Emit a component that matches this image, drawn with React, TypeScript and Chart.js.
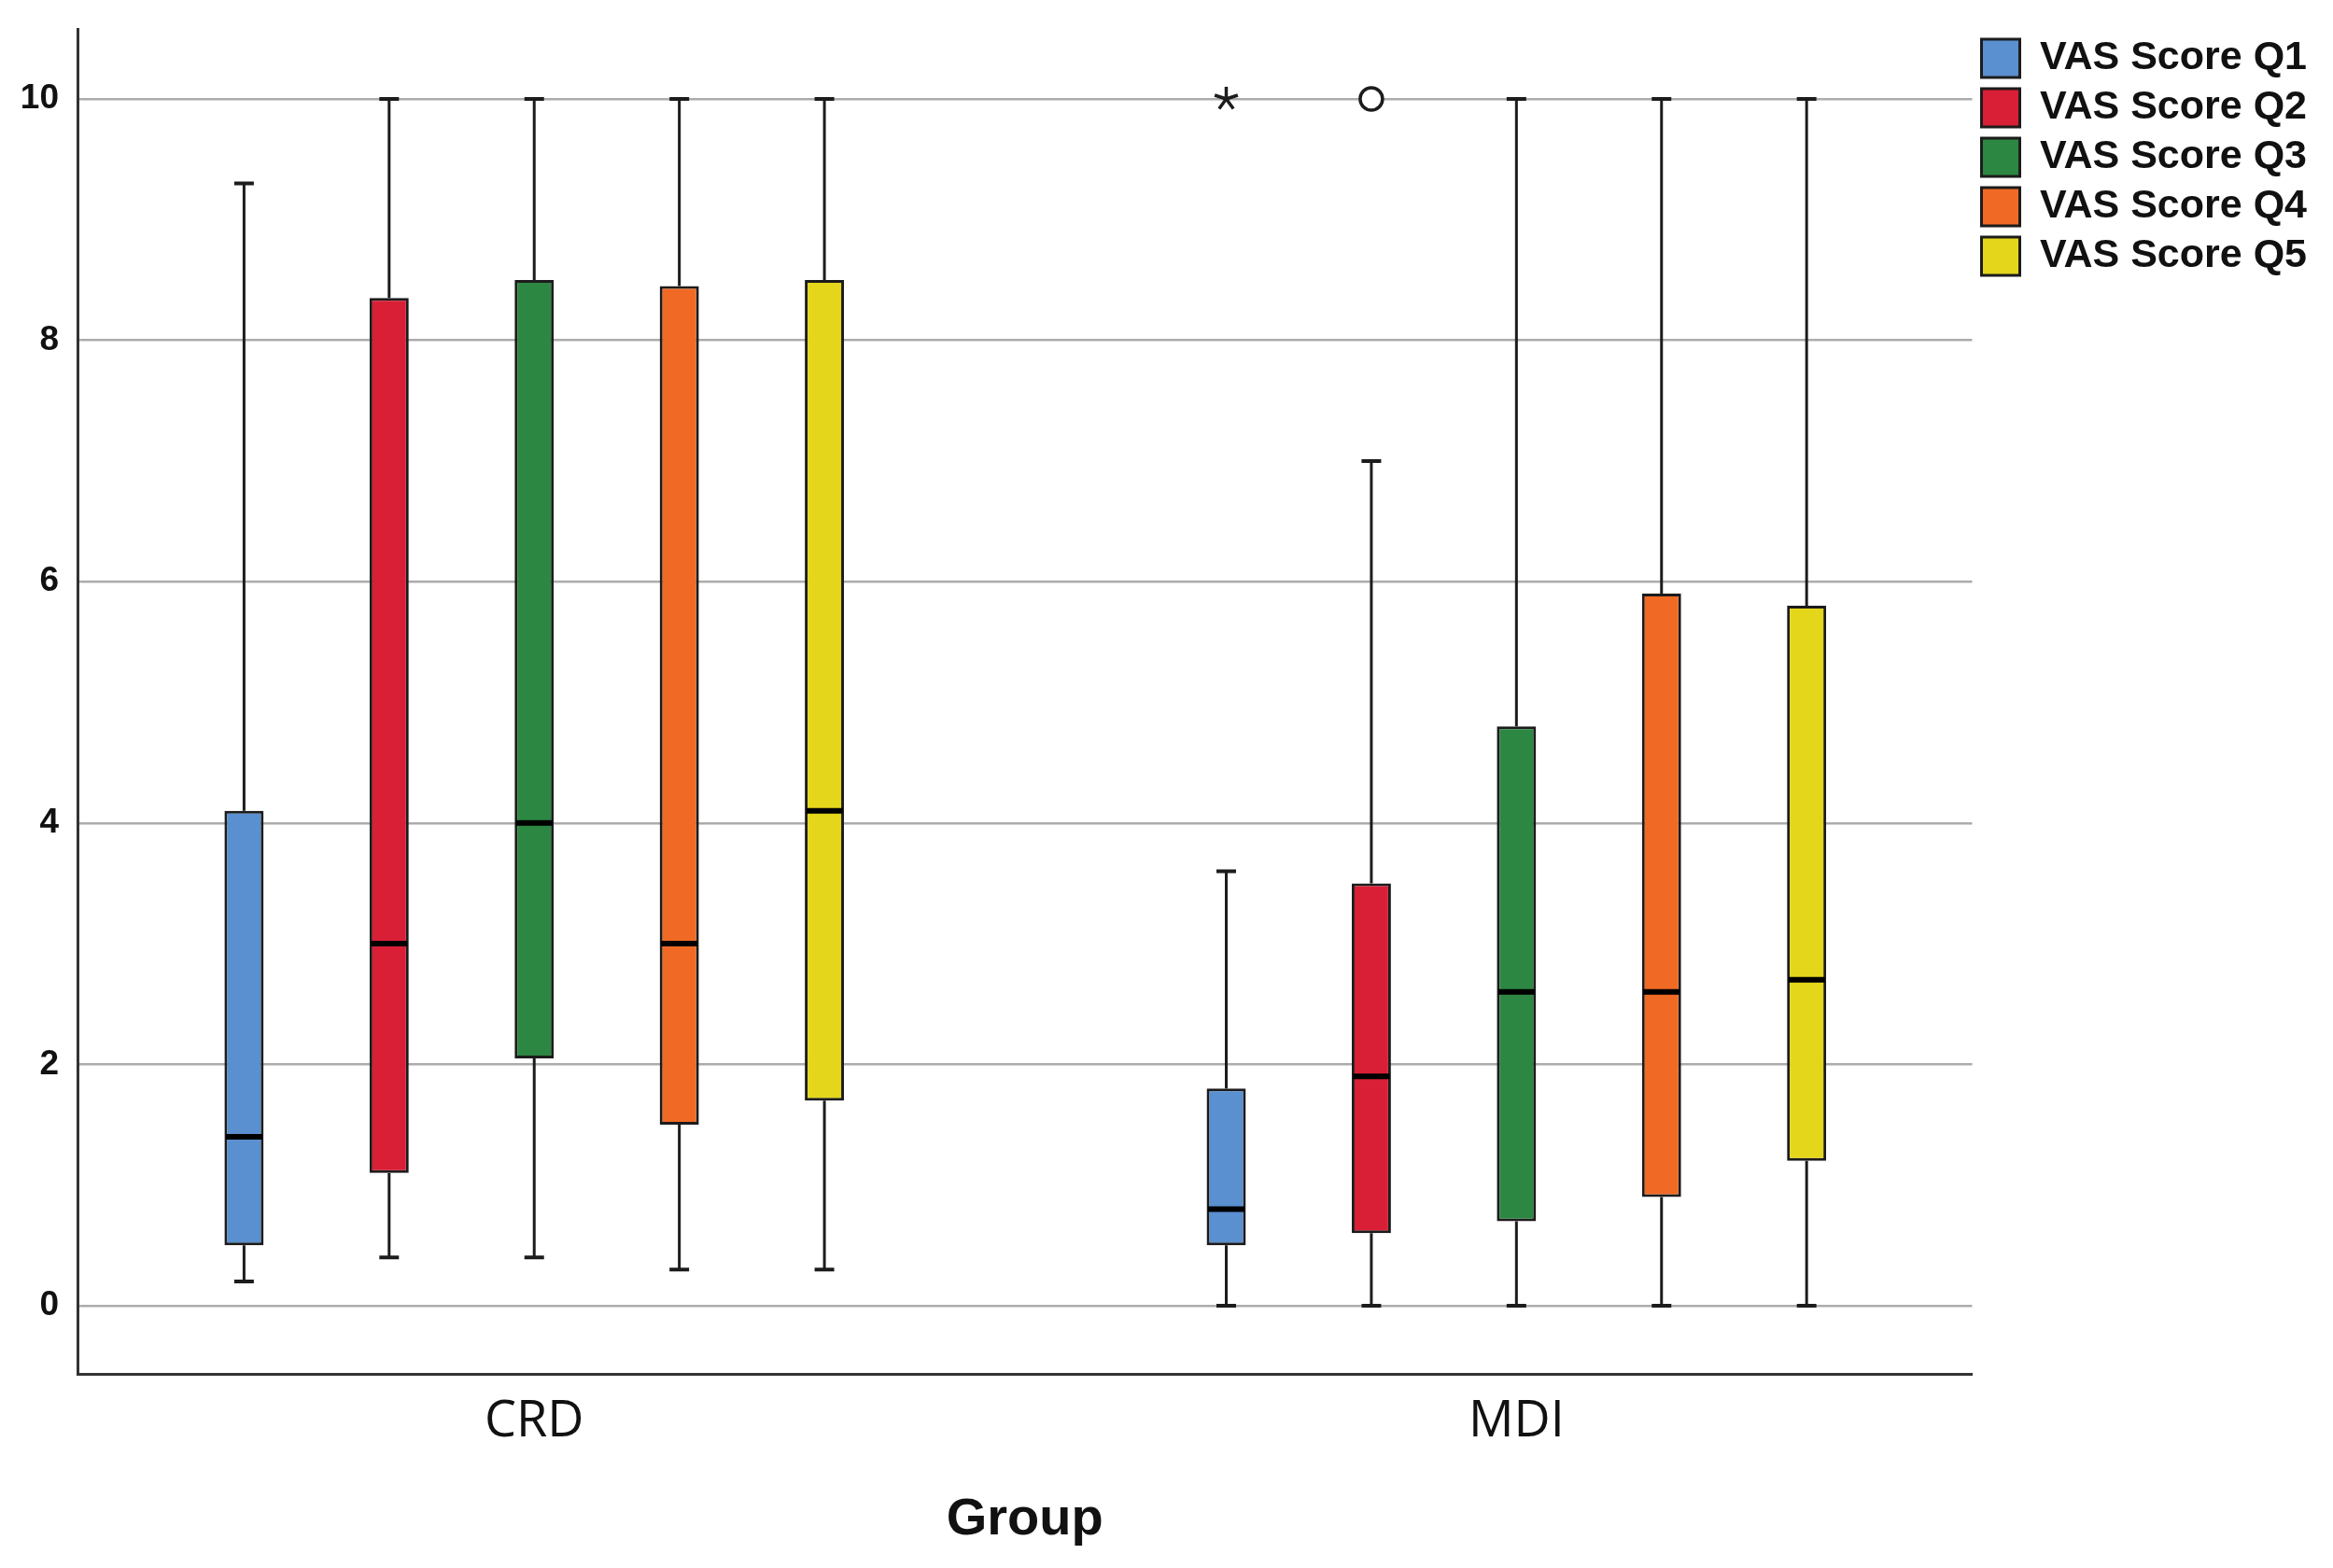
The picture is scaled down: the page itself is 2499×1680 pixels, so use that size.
import React, { useEffect, useRef } from 'react';
import { Chart, registerables } from 'chart.js';

Chart.register(...registerables);

const GROUPS = ['CRD', 'MDI'];
const SERIES = ['VAS Score Q1', 'VAS Score Q2', 'VAS Score Q3', 'VAS Score Q4', 'VAS Score Q5'];
const COLORS = ['#5a8fd0', '#d91f36', '#2c8742', '#f06a25', '#e4d61a'];
// per series: [CRD, MDI]
const WHISKER_LOW = [[0.2, 0], [0.4, 0], [0.4, 0], [0.3, 0], [0.3, 0]];
const BOX_LOW = [[0.5, 0.5], [1.1, 0.6], [2.05, 0.7], [1.5, 0.9], [1.7, 1.2]];
const MEDIAN = [[1.4, 0.8], [3.0, 1.9], [4.0, 2.6], [3.0, 2.6], [4.1, 2.7]];
const BOX_HIGH = [[4.1, 1.8], [8.35, 3.5], [8.5, 4.8], [8.45, 5.9], [8.5, 5.8]];
const WHISKER_HIGH = [[9.3, 3.6], [10, 7.0], [10, 10], [10, 10], [10, 10]];
const OUTLIERS = [
  { series: 0, group: 1, value: 10, kind: 'extreme' },
  { series: 1, group: 1, value: 10, kind: 'outlier' },
];
const Y_TICKS = [0, 2, 4, 6, 8, 10];

const INK = '#1c1c1c';

const boxPlotPlugin = {
  id: 'boxWhiskers',
  beforeDatasetsDraw(chart: any) {
    const ctx = chart.ctx;
    const y = chart.scales.y;
    ctx.save();
    ctx.strokeStyle = INK;
    ctx.lineWidth = 3;
    chart.data.datasets.forEach((_ds: any, s: number) => {
      const meta = chart.getDatasetMeta(s);
      meta.data.forEach((bar: any, g: number) => {
        const x = bar.x;
        ctx.beginPath();
        ctx.moveTo(x, y.getPixelForValue(WHISKER_HIGH[s][g]));
        ctx.lineTo(x, y.getPixelForValue(BOX_HIGH[s][g]));
        ctx.moveTo(x, y.getPixelForValue(BOX_LOW[s][g]));
        ctx.lineTo(x, y.getPixelForValue(WHISKER_LOW[s][g]));
        ctx.stroke();
      });
    });
    ctx.restore();
  },
  afterDatasetsDraw(chart: any) {
    const ctx = chart.ctx;
    const y = chart.scales.y;
    ctx.save();
    chart.data.datasets.forEach((_ds: any, s: number) => {
      const meta = chart.getDatasetMeta(s);
      meta.data.forEach((bar: any, g: number) => {
        const x = bar.x;
        const w = bar.width;
        ctx.strokeStyle = INK;
        ctx.lineWidth = 4;
        ctx.beginPath();
        const yHi = y.getPixelForValue(WHISKER_HIGH[s][g]);
        const yLo = y.getPixelForValue(WHISKER_LOW[s][g]);
        ctx.moveTo(x - w / 4, yHi);
        ctx.lineTo(x + w / 4, yHi);
        ctx.moveTo(x - w / 4, yLo);
        ctx.lineTo(x + w / 4, yLo);
        ctx.stroke();
        ctx.strokeStyle = '#000';
        ctx.lineWidth = 6;
        const yMed = y.getPixelForValue(MEDIAN[s][g]);
        ctx.beginPath();
        ctx.moveTo(x - w / 2 + 1.5, yMed);
        ctx.lineTo(x + w / 2 - 1.5, yMed);
        ctx.stroke();
      });
    });
    OUTLIERS.forEach((o) => {
      const bar: any = chart.getDatasetMeta(o.series).data[o.group];
      if (!bar) return;
      const x = bar.x;
      const py = y.getPixelForValue(o.value);
      ctx.strokeStyle = INK;
      ctx.lineWidth = 3.5;
      if (o.kind === 'outlier') {
        ctx.beginPath();
        ctx.arc(x, py, 12, 0, Math.PI * 2);
        ctx.fillStyle = '#fff';
        ctx.fill();
        ctx.stroke();
      } else {
        const r = 13;
        ctx.beginPath();
        for (let k = 0; k < 5; k++) {
          const a = -Math.PI / 2 + (k * 2 * Math.PI) / 5;
          ctx.moveTo(x, py);
          ctx.lineTo(x + r * Math.cos(a), py + r * Math.sin(a));
        }
        ctx.stroke();
      }
    });
    ctx.restore();
  },
};

export default function App() {
  const canvasRef = useRef<HTMLCanvasElement | null>(null);

  useEffect(() => {
    const canvas = canvasRef.current;
    if (!canvas) return;
    const chart = new Chart(canvas, {
      type: 'bar',
      data: {
        datasets: SERIES.map((label, s) => ({
          label,
          data: GROUPS.map((_, g) => ({ x: g, y: [BOX_LOW[s][g], BOX_HIGH[s][g]] })),
          backgroundColor: COLORS[s],
          borderColor: INK,
          borderWidth: 3,
          borderSkipped: false,
          categoryPercentage: 0.7386,
          barPercentage: 0.27,
        })) as any,
      },
      options: {
        animation: false,
        responsive: false,
        devicePixelRatio: 1,
        layout: { padding: { left: 0, top: 31, right: 18, bottom: 0 } },
        plugins: {
          legend: {
            position: 'right',
            align: 'start',
            labels: {
              font: { family: 'Liberation Sans', size: 43, weight: 'bold' },
              color: '#111',
              boxWidth: 41,
              boxHeight: 41,
              padding: 10,
            },
          },
          tooltip: { enabled: false },
        },
        scales: {
          x: {
            type: 'linear',
            min: -0.465,
            max: 1.464,
            offset: false,
            grid: { display: false, drawTicks: false, offset: false },
            border: { display: true, color: '#333', width: 3 },
            afterBuildTicks: (scale: any) => {
              scale.ticks = GROUPS.map((_, i) => ({ value: i }));
            },
            afterFit: (scale: any) => {
              scale.height = 208;
              scale.paddingLeft = 0;
              scale.paddingRight = 0;
            },
            ticks: {
              autoSkip: false,
              maxRotation: 0,
              padding: 19,
              color: '#111',
              font: { family: 'Open Sans', size: 54 },
              callback: (v: any) => GROUPS[Math.round(Number(v))] ?? '',
            },
            title: {
              display: true,
              text: 'Group',
              color: '#111',
              font: { family: 'Liberation Sans', size: 56, weight: 'bold' },
              padding: { top: 0, bottom: 18 },
            },
          },
          y: {
            type: 'linear',
            min: -0.565,
            max: 10.58,
            grid: { color: '#acacac', lineWidth: 2.5, drawTicks: false },
            border: { display: true, color: '#333', width: 3 },
            afterBuildTicks: (scale: any) => {
              scale.ticks = Y_TICKS.map((v) => ({ value: v }));
            },
            afterFit: (scale: any) => {
              scale.width = 83;
              scale.paddingTop = 0;
              scale.paddingBottom = 0;
            },
            ticks: {
              padding: 20,
              color: '#111',
              font: { family: 'Liberation Sans', size: 37, weight: 'bold' },
            },
          },
        },
      } as any,
      plugins: [boxPlotPlugin],
    });
    return () => chart.destroy();
  }, []);

  return (
    <div style={{ position: 'fixed', left: 0, top: 0, width: 2499, height: 1680, background: '#fff' }}>
      <canvas
        ref={canvasRef}
        width={2499}
        height={1680}
        style={{ width: '2499px', height: '1680px', display: 'block' }}
      />
    </div>
  );
}
